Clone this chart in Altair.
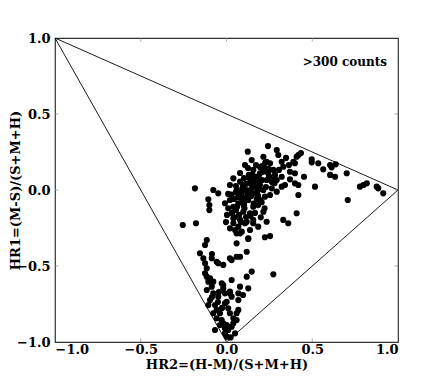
import altair as alt
import pandas as pd

hr2 = [
    0.242, 0.293, 0.124, 0.302, 0.147, 0.108, 0.215, 0.234, 0.254, 0.322, 0.331, 0.390, 0.409, 0.419, 0.434,
    0.399, 0.497, 0.497, 0.535, 0.564, 0.604, 0.613, 0.637, 0.604, 0.633, 0.701, 0.370, 0.399, 0.452, 0.370,
    0.399, 0.419, 0.516, 0.419, 0.341, 0.322, 0.293, 0.264, 0.293, 0.322, 0.778, 0.798, 0.818, 0.876, 0.885,
    0.914, 0.707, 0.409, 0.360, 0.331, 0.234, 0.185, 0.254, 0.224, 0.127, 0.079, 0.059, 0.020, 0.040,
    -0.184, -0.077, -0.048, 0.010, -0.106, -0.100, -0.100, -0.255, -0.178,
    0.040, 0.079, 0.020, -0.009, 0.010, 0.040, 0.098, 0.137, 0.156, 0.215, 0.195, 0.224, 0.215, 0.254, 0.176,
    0.195, 0.156, 0.137, 0.118, 0.089, 0.069, 0.127, 0.166, 0.195, 0.234, 0.224, 0.273, 0.283, 0.156, 0.108,
    0.137,
    0.055, 0.096, 0.067, 0.102, 0.143, 0.178, 0.207, 0.242, 0.172, 0.131, 0.102, 0.055, 0.032, 0.073, 0.114,
    0.166, 0.184, 0.149, 0.125, 0.090, 0.044, 0.184, 0.265, 0.207, 0.125, 0.079, 0.020, 0.055, 0.003, 0.085,
    -0.003, 0.050, 0.102, 0.143, 0.190, 0.230, 0.248, 0.306, 0.347, 0.364,
    -0.115, -0.125, -0.155, -0.135, -0.125, -0.115, -0.125, -0.115, -0.096, -0.077, -0.086, -0.057, -0.019,
    0.020, 0.030, 0.059, 0.079, 0.118, 0.127, 0.273, 0.147, 0.118, 0.030, -0.019, 0.156, 0.118, 0.079, 0.040,
    0.069, 0.059, 0.089, -0.048, 0.127, 0.069, 0.069, 0.020, 0.001, -0.085,
    -0.106, -0.086, -0.115, -0.077, -0.096, -0.106, -0.067, -0.057, -0.077, -0.038, -0.057, -0.028, -0.019,
    -0.038, 0.001, -0.009, 0.010, 0.030, 0.059, 0.040, 0.020, 0.010, -0.009, -0.019, -0.009, 0.020, 0.030,
    -0.028, 0.079, 0.096, -0.009, 0.001, 0.050, -0.048, -0.067, 0.040, 0.069, 0.059, -0.085, -0.050, -0.026,
    -0.044, 0.024,
    0.160, 0.185, 0.205, 0.222, 0.176, 0.150, 0.120, 0.105, 0.085, 0.060, 0.030, 0.140, 0.200, 0.170, 0.245,
    0.112, 0.128, 0.152, 0.168, 0.188, 0.212, 0.098, 0.074, 0.062, 0.136, 0.158, 0.180, 0.092, 0.115, 0.046,
    0.262, 0.280, 0.226, 0.196, 0.172,
]
hr1 = [
    0.289, 0.263, 0.252, 0.230, 0.197, 0.164, 0.219, 0.186, 0.176, 0.186, 0.153, 0.186, 0.219, 0.230, 0.243,
    0.176, 0.202, 0.182, 0.176, 0.136, 0.164, 0.149, 0.169, 0.099, 0.087, 0.110, 0.120, 0.110, 0.087, 0.070,
    0.044, 0.033, 0.022, -0.033, 0.033, 0.087, 0.066, 0.011, -0.011, 0.022, 0.022, 0.033, 0.044, 0.022, 0.011,
    -0.022, -0.066, -0.153, -0.219, -0.197, -0.209, -0.241, -0.303, -0.311, -0.318, -0.285, -0.351, -0.252, -0.186,
    0.011, 0.000, -0.022, -0.026, -0.061, -0.099, -0.132, -0.230, -0.219,
    0.077, 0.055, -0.066, -0.087, -0.120, -0.110, -0.143, -0.153, -0.197, -0.143, -0.066, -0.044, 0.000, -0.033,
    0.087, 0.110, 0.132, 0.044, 0.000, -0.022, -0.087, -0.066, -0.022, 0.033, 0.066, 0.143, 0.132, 0.099,
    -0.110, -0.219, -0.263,
    0.026, 0.026, -0.046, -0.092, -0.039, 0.013, 0.066, 0.112, 0.164, 0.099, 0.079, -0.013, -0.151, -0.164,
    -0.178, -0.151, -0.099, 0.013, -0.026, -0.059, -0.059, -0.039, 0.053, 0.158, 0.145, 0.112, 0.033, -0.132,
    -0.164, -0.211, -0.211, -0.263, -0.105, 0.066, 0.066, 0.020, 0.092, 0.132, 0.211, 0.164,
    -0.329, -0.362, -0.416, -0.449, -0.482, -0.515, -0.548, -0.570, -0.581, -0.603, -0.449, -0.472, -0.493,
    -0.449, -0.461, -0.439, -0.439, -0.406, -0.322, -0.555, -0.537, -0.570, -0.592, -0.625, -0.219, -0.209,
    -0.197, -0.219, -0.241, -0.285, -0.274, -0.482, -0.647, -0.680, -0.724, -0.669, -0.735, -0.421,
    -0.603, -0.636, -0.658, -0.680, -0.724, -0.757, -0.757, -0.789, -0.811, -0.811, -0.844, -0.855, -0.877,
    -0.888, -0.888, -0.910, -0.921, -0.899, -0.855, -0.844, -0.811, -0.778, -0.745, -0.647, -0.680, -0.680,
    -0.702, -0.614, -0.636, -0.691, -0.943, -0.965, -0.943, -0.702, -0.921, -0.877, -0.789, -0.811, -0.704,
    -0.737, -0.776, -0.671, -0.970,
    0.050, 0.000, -0.080, -0.120, -0.060, 0.070, -0.010, -0.120, -0.030, 0.000, -0.030, -0.170, -0.180, 0.040, 0.140,
    0.040, 0.080, 0.100, 0.030, 0.090, 0.120, -0.075, -0.020, -0.110, -0.010, -0.090, 0.018, 0.010, -0.050, -0.180,
    0.070, 0.045, 0.180, 0.150, 0.050,
]

tri_x = [-1.0, 1.0, 0.0, -1.0]
tri_y = [1.0, 0.0, -1.0, 1.0]
tri_order = [0, 1, 2, 3]

ticks = [-1.0, -0.5, 0.0, 0.5, 1.0]
inner_ticks = [-0.5, 0.0, 0.5]
edges = [-1.0, 1.0]
label_text = [">300 counts"]
label_x = [0.69]
label_y = [0.84]

pts = pd.DataFrame({"hr2": hr2, "hr1": hr1})
tri = pd.DataFrame({"x": tri_x, "y": tri_y, "o": tri_order})
lab = pd.DataFrame({"t": label_text, "x": label_x, "y": label_y})
xt = pd.DataFrame([{"x": t, "y": e} for t in inner_ticks for e in edges])
yt = pd.DataFrame([{"y": t, "x": e} for t in inner_ticks for e in edges])

FONT = "DejaVu Serif"

xs = alt.Scale(domain=[-1, 1], nice=False, zero=False)
ys = alt.Scale(domain=[-1, 1], nice=False, zero=False)

xaxis = alt.Axis(values=ticks, format=".1f", title="HR2=(H-M)/(S+M+H)", grid=False,
                 domain=False, ticks=False, labelPadding=1, titlePadding=2)
yaxis = alt.Axis(values=ticks, format=".1f", title="HR1=(M-S)/(S+M+H)", grid=False,
                 domain=False, ticks=False, labelPadding=5,
                 titleX=-33, titleY=152, titleAngle=270, titleAlign="center", titleBaseline="bottom")

triangle = alt.Chart(tri).mark_line(color="black", strokeWidth=0.9, clip=True).encode(
    x=alt.X("x:Q", scale=xs, axis=xaxis),
    y=alt.Y("y:Q", scale=ys, axis=yaxis),
    order="o:Q",
)

xticks = alt.Chart(xt).mark_tick(color="#888888", orient="vertical", size=7, thickness=1, clip=True).encode(
    x=alt.X("x:Q", scale=xs),
    y=alt.Y("y:Q", scale=ys),
)
yticks = alt.Chart(yt).mark_tick(color="#888888", orient="horizontal", size=7, thickness=1, clip=True).encode(
    x=alt.X("x:Q", scale=xs),
    y=alt.Y("y:Q", scale=ys),
)

points = alt.Chart(pts).mark_circle(color="black", opacity=1, size=38).encode(
    x=alt.X("hr2:Q", scale=xs),
    y=alt.Y("hr1:Q", scale=ys),
)

text = alt.Chart(lab).mark_text(font=FONT, fontWeight="bold", fontSize=12, color="black").encode(
    x=alt.X("x:Q", scale=xs),
    y=alt.Y("y:Q", scale=ys),
    text="t:N",
)

chart = alt.layer(triangle, xticks, yticks, points, text).properties(
    width=343,
    height=304,
    autosize=alt.AutoSizeParams(type="none"),
    padding={"left": 47, "top": 30, "right": 30, "bottom": 30},
).configure_view(
    stroke="#333333", strokeWidth=1.2
).configure_axis(
    labelFont=FONT, labelFontWeight="bold", labelFontSize=13, labelColor="black",
    titleFont=FONT, titleFontWeight="bold", titleFontSize=13, titleColor="black",
)

chart.save("out.html", embed_options={"renderer": "svg", "actions": False})
